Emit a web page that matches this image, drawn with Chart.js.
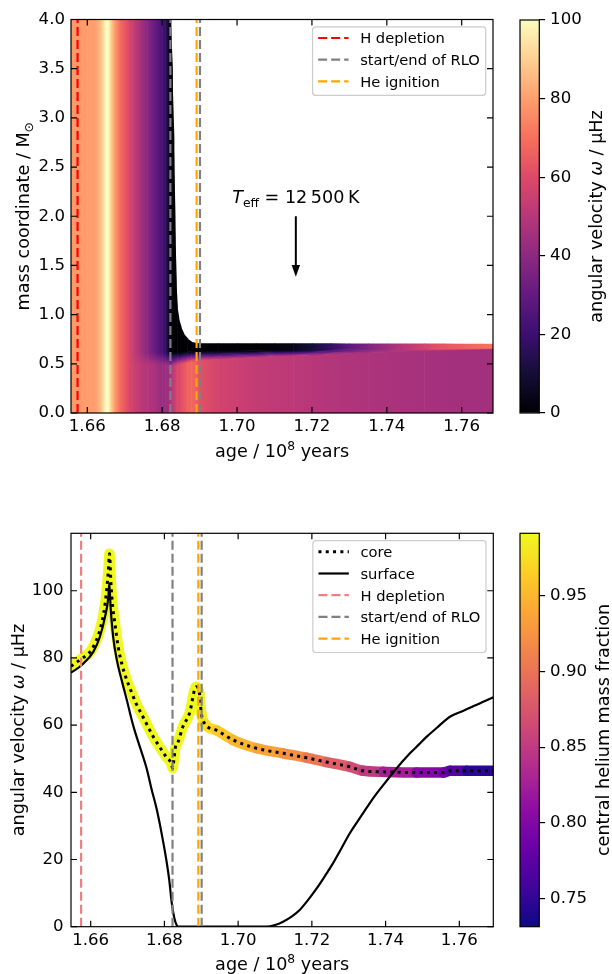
<!DOCTYPE html>
<html>
<head>
<meta charset="utf-8">
<script src="https://cdn.jsdelivr.net/npm/chart.js@4.4.0/dist/chart.umd.min.js"></script>
<style>
html, body { margin: 0; padding: 0; background: #fff; }
#wrap { position: relative; width: 612px; height: 974px; }
canvas { position: absolute; left: 0; top: 0; }
</style>
</head>
<body>
<div id="wrap">
  <canvas id="topMap" width="612" height="974"></canvas>
  <canvas id="topBar" width="612" height="974"></canvas>
  <canvas id="botLine" width="612" height="974"></canvas>
  <canvas id="botBar" width="612" height="974"></canvas>
</div>
<script>
// ---- events (age in 1e8 yr) ----
const hDepletionAge = 1.6574;
const rloAges = [1.6822, 1.6901];
const heIgnitionAge = 1.6892;

// ---- axis ranges and ticks ----
const topAgeRange = [1.65565, 1.76836];
const botAgeRange = [1.65466, 1.76922];
const massRange = [0, 4];
const omegaRange = [0, 117.1];
const omegaCbarRange = [0, 100];
const heCbarRange = [0.7312, 0.9915];
const ageTicks = [1.66, 1.68, 1.70, 1.72, 1.74, 1.76];
const massTicks = [0, 0.5, 1.0, 1.5, 2.0, 2.5, 3.0, 3.5, 4.0];
const omegaTicks = [0, 20, 40, 60, 80, 100];
const heTicks = [0.75, 0.80, 0.85, 0.90, 0.95];

// ---- top panel: omega(age, mass) columns ----
const hmAge = [1.65565, 1.6575, 1.6600, 1.6620, 1.6632, 1.6642, 1.6650, 1.6656, 1.6662, 1.6670,
  1.6680, 1.6690, 1.6700, 1.6710, 1.6720, 1.6730, 1.6740, 1.6750, 1.6760, 1.6770,
  1.6780, 1.6790, 1.6800, 1.6808, 1.6815, 1.6820, 1.6823, 1.6827, 1.6831, 1.6834,
  1.6837, 1.6840, 1.6844, 1.6850, 1.6857, 1.6867, 1.6878, 1.6890, 1.6900, 1.6950,
  1.7000, 1.7050, 1.7100, 1.7150, 1.7200, 1.7250, 1.7300, 1.7350, 1.7400, 1.7450,
  1.7500, 1.7550, 1.7600, 1.7650, 1.76836];
const hmEnvOmega = [79, 79, 79.5, 80, 84, 92, 100, 100, 92, 83,
  74, 68, 64, 60, 55, 51, 47, 43, 39, 35,
  31, 27, 23, 18, 11, 4, 1, 0, 0, 0,
  0, 0, 0, 0, 0, 0, 0, 0, 0, 0,
  0, 0, 1, 4, 10, 18, 28, 36, 44, 51,
  57, 63, 66, 69, 71];
const hmCoreOmega = [79, 79, 79.5, 80, 84, 92, 100, 100, 92, 83,
  74, 68, 64, 60, 56, 54, 52, 50, 49, 48,
  47, 44, 43, 43, 44, 46, 48, 50, 52, 55,
  57, 58, 59, 61, 63, 66, 68, 66, 62, 57,
  55, 53, 52, 51, 50, 49, 48, 47.5, 47, 46.5,
  46, 45.5, 45, 45, 45];
const hmCoreTop = [0.5, 0.5, 0.5, 0.5, 0.5, 0.5, 0.5, 0.5, 0.5, 0.5,
  0.5, 0.5, 0.5, 0.5, 0.5, 0.5, 0.5, 0.5, 0.5, 0.5,
  0.5, 0.5, 0.5, 0.5, 0.5, 0.48, 0.48, 0.48, 0.49, 0.49,
  0.49, 0.5, 0.5, 0.51, 0.51, 0.52, 0.53, 0.53, 0.54, 0.55,
  0.56, 0.57, 0.58, 0.585, 0.59, 0.6, 0.61, 0.615, 0.62, 0.63,
  0.635, 0.64, 0.645, 0.65, 0.655];
const hmEnvBottom = [0.62, 0.62, 0.62, 0.62, 0.62, 0.62, 0.62, 0.62, 0.62, 0.62,
  0.62, 0.62, 0.62, 0.62, 0.62, 0.62, 0.62, 0.62, 0.62, 0.62,
  0.62, 0.62, 0.62, 0.62, 0.62, 0.62, 0.62, 0.62, 0.62, 0.62,
  0.62, 0.62, 0.62, 0.62, 0.625, 0.625, 0.63, 0.63, 0.63, 0.633,
  0.636, 0.638, 0.64, 0.642, 0.644, 0.646, 0.648, 0.65, 0.652, 0.654,
  0.656, 0.658, 0.66, 0.662, 0.665];
const hmStarMass = [4.5, 4.5, 4.5, 4.5, 4.5, 4.5, 4.5, 4.5, 4.5, 4.5,
  4.5, 4.5, 4.5, 4.5, 4.5, 4.5, 4.5, 4.5, 4.5, 4.5,
  4.5, 4.5, 4.5, 4.5, 4.5, 4.5, 4.0, 3.5, 2.8, 2.0,
  1.4, 1.1, 0.97, 0.88, 0.81, 0.76, 0.725, 0.712, 0.71, 0.71,
  0.71, 0.71, 0.709, 0.709, 0.708, 0.708, 0.707, 0.707, 0.707, 0.706,
  0.706, 0.706, 0.705, 0.705, 0.705];

// ---- bottom panel ----
const coreAge = [1.65466, 1.6573, 1.6600, 1.6610, 1.6625, 1.6639, 1.6648, 1.6651, 1.6655, 1.6660,
  1.6666, 1.6675, 1.6685, 1.6696, 1.6710, 1.6723, 1.6737, 1.6751, 1.6770, 1.6787,
  1.6805, 1.6819, 1.6822, 1.6826, 1.6830, 1.6837, 1.6850, 1.6868, 1.6886, 1.6895,
  1.6900, 1.6909, 1.6941, 1.6986, 1.7050, 1.7122, 1.7185, 1.7240, 1.7303, 1.7339,
  1.7394, 1.7484, 1.7557, 1.7575, 1.7620, 1.76922];
const coreOmega = [77.5, 79.6, 82, 84, 88.3, 96, 106, 111, 102, 95,
  90, 83, 78, 74, 70, 66.5, 63.5, 60.5, 56.5, 53.5,
  50.5, 48.5, 47.2, 50, 53.5, 55, 59.5, 63.5, 71.4, 69.5,
  63.6, 60.5, 58.5, 55.6, 53.1, 51.6, 50.3, 49.0, 47.6, 46.4,
  46.1, 45.9, 45.9, 46.4, 46.4, 46.4];
const coreHe = [0.991, 0.991, 0.991, 0.991, 0.991, 0.991, 0.991, 0.991, 0.991, 0.991,
  0.991, 0.991, 0.991, 0.991, 0.991, 0.991, 0.991, 0.991, 0.991, 0.991,
  0.991, 0.991, 0.991, 0.991, 0.991, 0.991, 0.991, 0.991, 0.991, 0.99,
  0.988, 0.983, 0.967, 0.955, 0.944, 0.93, 0.915, 0.893, 0.874, 0.86,
  0.84, 0.812, 0.793, 0.785, 0.757, 0.735];
const surfAge = [1.65466, 1.6576, 1.6607, 1.6625, 1.6639, 1.6648, 1.66505, 1.6654, 1.6661, 1.6671,
  1.6684, 1.6698, 1.6715, 1.6735, 1.6752, 1.6765, 1.6779, 1.6792, 1.6805, 1.6813,
  1.6820, 1.6827, 1.6833, 1.6838, 1.7077, 1.7100, 1.7122, 1.7145, 1.7167, 1.7190,
  1.7213, 1.7235, 1.7258, 1.7280, 1.7303, 1.7325, 1.7348, 1.7370, 1.7394, 1.7425,
  1.7466, 1.7490, 1.7511, 1.7540, 1.7566, 1.7578, 1.7610, 1.7639, 1.76922];
const surfOmega = [75.6, 77.9, 81.8, 86.3, 92.3, 98.2, 102.2, 95.2, 86.3, 79.4,
  73.4, 67.5, 60, 53, 47, 41, 35, 28, 20, 14,
  7, 2.5, 0.5, 0, 0, 0.5, 1.5, 3, 5, 8,
  11.4, 15, 19, 23.3, 27.8, 31.5, 35.3, 38.8, 42.2, 46.5,
  51.6, 54.2, 56.5, 59.3, 61.8, 62.7, 64.2, 65.7, 68.3];

// ---- annotation ----
const teffAge = 1.7157;
const teffTextMass = 2.13;
const teffArrow = [2.0, 1.385];

// ---- colour maps ----
const magmaRGB = [[0,0,4],[20,14,54],[59,15,112],[100,26,128],[140,41,129],[183,55,121],
  [222,73,104],[247,112,92],[254,159,109],[254,207,146],[252,253,191]];
const plasmaRGB = [[13,8,135],[65,4,157],[106,0,168],[143,13,164],[177,42,144],[204,71,120],
  [225,100,98],[242,132,75],[252,166,54],[252,206,37],[240,249,33]];

function cmap(stops, t) {
  t = Math.min(1, Math.max(0, t));
  const s = t * (stops.length - 1);
  const i = Math.min(stops.length - 2, Math.floor(s));
  const f = s - i;
  const a = stops[i], b = stops[i + 1];
  return 'rgb(' + [0, 1, 2].map(k => Math.round(a[k] + (b[k] - a[k]) * f)).join(',') + ')';
}
const omegaColor = v => cmap(magmaRGB, (v - omegaCbarRange[0]) / (omegaCbarRange[1] - omegaCbarRange[0]));
const heColor = v => cmap(plasmaRGB, (v - heCbarRange[0]) / (heCbarRange[1] - heCbarRange[0]));

const FONT = "'DejaVu Sans', sans-serif";
const TICK_SIZE = 16.6, LABEL_SIZE = 17.6, LEG_SIZE = 14.7;
Chart.defaults.font.family = FONT;
Chart.defaults.color = '#000';

function f(size, italic) { return (italic ? 'italic ' : '') + size + 'px ' + FONT; }

function drawRich(ctx, parts, x, y, rot, align) {
  ctx.save();
  ctx.translate(x, y);
  ctx.rotate(rot);
  ctx.textBaseline = 'alphabetic';
  ctx.textAlign = 'left';
  ctx.fillStyle = '#000';
  let total = 0;
  const widths = parts.map(p => { ctx.font = p.font; const w = ctx.measureText(p.t).width; total += w; return w; });
  let cx = align === 'center' ? -total / 2 : 0;
  parts.forEach((p, i) => { ctx.font = p.font; ctx.fillText(p.t, cx, p.dy || 0); cx += widths[i]; });
  ctx.restore();
}

const ageTitle = [{t: 'age / 10', font: f(LABEL_SIZE)}, {t: '8', font: f(12.3), dy: -7.5}, {t: ' years', font: f(LABEL_SIZE)}];
const omegaTitle = [{t: 'angular velocity ', font: f(LABEL_SIZE)}, {t: 'ω', font: f(LABEL_SIZE, true)}, {t: ' / μHz', font: f(LABEL_SIZE)}];
const massTitle = [{t: 'mass coordinate / M', font: f(LABEL_SIZE)}, {t: '⊙', font: f(12.3), dy: 3.5}];
const heTitle = [{t: 'central helium mass fraction', font: f(LABEL_SIZE)}];
const teffParts = [{t: 'T', font: f(LABEL_SIZE, true)}, {t: 'eff', font: f(12.3), dy: 3.8}, {t: ' = 12\u2009500\u2009K', font: f(LABEL_SIZE)}];

function titles(list) {
  return {
    id: 'titles',
    afterDraw(chart) {
      const a = chart.chartArea;
      list.forEach(t => {
        if (t.rot) drawRich(chart.ctx, t.parts, a.left + t.dx, (a.top + a.bottom) / 2, -Math.PI / 2, 'center');
        else drawRich(chart.ctx, t.parts, (a.left + a.right) / 2, a.bottom + t.dy, 0, 'center');
      });
    }
  };
}

function frameTicks(xTicks, yTicks) {
  return {
    id: 'frameTicks',
    afterDatasetsDraw(chart) {
      const {ctx, chartArea: a, scales: {x, y}} = chart;
      const L = 6;
      ctx.save();
      ctx.strokeStyle = '#000';
      ctx.lineWidth = 1.2;
      ctx.setLineDash([]);
      ctx.beginPath();
      xTicks.forEach(v => {
        const px = x.getPixelForValue(v);
        ctx.moveTo(px, a.bottom); ctx.lineTo(px, a.bottom - L);
        ctx.moveTo(px, a.top); ctx.lineTo(px, a.top + L);
      });
      yTicks.forEach(v => {
        const py = y.getPixelForValue(v);
        ctx.moveTo(a.left, py); ctx.lineTo(a.left + L, py);
        ctx.moveTo(a.right, py); ctx.lineTo(a.right - L, py);
      });
      ctx.stroke();
      ctx.strokeRect(a.left, a.top, a.right - a.left, a.bottom - a.top);
      ctx.restore();
    }
  };
}

const boxLegend = {
  id: 'boxLegend',
  afterDraw(chart) {
    const {ctx, chartArea: a} = chart;
    const items = chart.data.datasets.filter(d => d.label);
    ctx.save();
    ctx.font = f(LEG_SIZE);
    const maxW = Math.max(...items.map(d => ctx.measureText(d.label).width));
    const rowH = 21.7;
    const w = 47.6 + maxW + 5.8, h = items.length * rowH + 3.4;
    const left = a.right - 7.3 - w, top = a.top + 7.3;
    ctx.beginPath();
    ctx.roundRect(left, top, w, h, 3);
    ctx.fillStyle = 'rgba(255,255,255,0.8)';
    ctx.fill();
    ctx.strokeStyle = '#cccccc';
    ctx.lineWidth = 1.2;
    ctx.stroke();
    items.forEach((d, i) => {
      const cy = top + 11.2 + i * rowH;
      ctx.beginPath();
      ctx.setLineDash(d.borderDash || []);
      ctx.strokeStyle = d.borderColor;
      ctx.lineWidth = d.borderWidth;
      ctx.moveTo(left + 5.6, cy);
      ctx.lineTo(left + 36, cy);
      ctx.stroke();
      ctx.setLineDash([]);
      ctx.fillStyle = '#000';
      ctx.textBaseline = 'alphabetic';
      ctx.fillText(d.label, left + 47.6, cy + 5.3);
    });
    ctx.restore();
  }
};

const heatmapPlugin = {
  id: 'heatmap',
  beforeDatasetsDraw(chart) {
    const {ctx, chartArea: a, scales: {x, y}} = chart;
    const lerp = (p, q, t) => p + (q - p) * t;
    const NB = 6;
    ctx.save();
    ctx.beginPath();
    ctx.rect(a.left, a.top, a.right - a.left, a.bottom - a.top);
    ctx.clip();
    for (let i = 0; i < hmAge.length - 1; i++) {
      const j = i + 1;
      const x0 = x.getPixelForValue(hmAge[i]);
      const x1 = x.getPixelForValue(hmAge[j]);
      const bands = [[0, 0, hmCoreTop[i], hmCoreTop[j], hmCoreOmega[i], hmCoreOmega[j]]];
      for (let k = 0; k < NB; k++) {
        const f0 = k / NB, f1 = (k + 1) / NB, fm = (k + 0.5) / NB;
        bands.push([
          lerp(hmCoreTop[i], hmEnvBottom[i], f0), lerp(hmCoreTop[j], hmEnvBottom[j], f0),
          lerp(hmCoreTop[i], hmEnvBottom[i], f1), lerp(hmCoreTop[j], hmEnvBottom[j], f1),
          lerp(hmCoreOmega[i], hmEnvOmega[i], fm), lerp(hmCoreOmega[j], hmEnvOmega[j], fm)]);
      }
      bands.push([hmEnvBottom[i], hmEnvBottom[j], hmStarMass[i], hmStarMass[j], hmEnvOmega[i], hmEnvOmega[j]]);
      bands.forEach(b => {
        const g = ctx.createLinearGradient(x0, 0, x1, 0);
        g.addColorStop(0, omegaColor(b[4]));
        g.addColorStop(1, omegaColor(b[5]));
        ctx.fillStyle = g;
        ctx.beginPath();
        ctx.moveTo(x0, y.getPixelForValue(b[0]) + 0.6);
        ctx.lineTo(x1 + 0.6, y.getPixelForValue(b[1]) + 0.6);
        ctx.lineTo(x1 + 0.6, y.getPixelForValue(b[3]));
        ctx.lineTo(x0, y.getPixelForValue(b[2]));
        ctx.closePath();
        ctx.fill();
      });
    }
    ctx.restore();
  }
};

const teffPlugin = {
  id: 'teff',
  afterDatasetsDraw(chart) {
    const {ctx, scales: {x, y}} = chart;
    const px = x.getPixelForValue(teffAge);
    const y0 = y.getPixelForValue(teffArrow[0]), y1 = y.getPixelForValue(teffArrow[1]);
    ctx.save();
    ctx.strokeStyle = '#000';
    ctx.fillStyle = '#000';
    ctx.lineWidth = 2;
    ctx.beginPath();
    ctx.moveTo(px, y0);
    ctx.lineTo(px, y1 - 10);
    ctx.stroke();
    ctx.beginPath();
    ctx.moveTo(px, y1);
    ctx.lineTo(px - 4.2, y1 - 11.7);
    ctx.lineTo(px + 4.2, y1 - 11.7);
    ctx.closePath();
    ctx.fill();
    ctx.restore();
    drawRich(ctx, teffParts, px, y.getPixelForValue(teffTextMass), 0, 'center');
  }
};

function vlineDs(label, age, range, color) {
  return {
    label: label,
    data: [{x: age, y: range[0]}, {x: age, y: range[1]}],
    borderColor: color,
    borderWidth: 2.2,
    borderDash: [9, 4],
    pointRadius: 0,
    order: 0
  };
}

// fixed-size axis boxes so the plot area sits exactly where the reference has it
function mainOptions(pad, xr, yr, xt, yt, xfmt, yfmt, ypad) {
  return {
    responsive: false,
    animation: false,
    devicePixelRatio: 1,
    events: [],
    layout: {padding: pad},
    elements: {point: {radius: 0}, line: {tension: 0}},
    plugins: {legend: {display: false}, tooltip: {enabled: false}},
    scales: {
      x: {
        type: 'linear', min: xr[0], max: xr[1],
        afterFit: s => { s.height = 40; },
        afterBuildTicks: s => { s.ticks = xt.map(v => ({value: v})); },
        grid: {display: false, drawTicks: false},
        border: {display: false},
        ticks: {autoSkip: false, maxRotation: 0, padding: 4, color: '#000',
          font: {family: FONT, size: TICK_SIZE}, callback: xfmt}
      },
      y: {
        type: 'linear', min: yr[0], max: yr[1],
        afterFit: s => { s.width = 71; },
        afterBuildTicks: s => { s.ticks = yt.map(v => ({value: v})); },
        grid: {display: false, drawTicks: false},
        border: {display: false},
        ticks: {autoSkip: false, padding: ypad, color: '#000',
          font: {family: FONT, size: TICK_SIZE}, callback: yfmt}
      }
    }
  };
}

// top panel
new Chart(document.getElementById('topMap'), {
  type: 'line',
  data: {datasets: [
    vlineDs('H depletion', hDepletionAge, massRange, 'red'),
    vlineDs('start/end of RLO', rloAges[0], massRange, 'gray'),
    vlineDs(null, rloAges[1], massRange, 'gray'),
    vlineDs('He ignition', heIgnitionAge, massRange, 'orange')
  ]},
  options: mainOptions({left: 0, top: 19.5, right: 119, bottom: 521}, topAgeRange, massRange,
    ageTicks, massTicks, v => v.toFixed(2), v => v.toFixed(1), 6),
  plugins: [heatmapPlugin, frameTicks(ageTicks, massTicks), teffPlugin, boxLegend,
    titles([{parts: ageTitle, dy: 44}, {parts: massTitle, rot: true, dx: -42}])]
});

// bottom panel
const corePts = coreAge.map((a, i) => ({x: a, y: coreOmega[i]}));
const surfPts = surfAge.map((a, i) => ({x: a, y: surfOmega[i]}));
new Chart(document.getElementById('botLine'), {
  type: 'line',
  data: {datasets: [
    {label: 'core', data: corePts, borderColor: '#000', borderWidth: 3, borderDash: [3, 4.3],
      pointRadius: 0, order: 2, cubicInterpolationMode: 'monotone'},
    {label: 'surface', data: surfPts, borderColor: '#000', borderWidth: 2.2, pointRadius: 0,
      order: 1, cubicInterpolationMode: 'monotone'},
    vlineDs('H depletion', hDepletionAge, omegaRange, '#f08080'),
    vlineDs('start/end of RLO', rloAges[0], omegaRange, 'gray'),
    vlineDs(null, rloAges[1], omegaRange, 'gray'),
    vlineDs('He ignition', heIgnitionAge, omegaRange, 'orange'),
    {data: corePts, borderWidth: 10.5, borderColor: heColor(coreHe[0]), borderCapStyle: 'round',
      borderJoinStyle: 'round', pointRadius: 0, order: 3, cubicInterpolationMode: 'monotone',
      segment: {borderColor: c => heColor((coreHe[c.p0DataIndex] + coreHe[c.p1DataIndex]) / 2)}}
  ]},
  options: mainOptions({left: 0, top: 533.3, right: 118.7, bottom: 7.3}, botAgeRange, omegaRange,
    ageTicks, omegaTicks, v => v.toFixed(2), v => String(v), 7.5),
  plugins: [frameTicks(ageTicks, omegaTicks), boxLegend,
    titles([{parts: ageTitle, dy: 43.3}, {parts: omegaTitle, rot: true, dx: -47}])]
});

// colour bars
function colourBar(id, pad, range, stops, ticks, fmt, title, titleDx) {
  new Chart(document.getElementById(id), {
    type: 'bar',
    data: {labels: [''], datasets: [{
      data: [range],
      backgroundColor: c => {
        const a = c.chart.chartArea;
        if (!a) return '#000';
        const g = c.chart.ctx.createLinearGradient(0, a.bottom, 0, a.top);
        stops.forEach((s, i) => g.addColorStop(i / (stops.length - 1), 'rgb(' + s.join(',') + ')'));
        return g;
      },
      borderWidth: 0, barPercentage: 1, categoryPercentage: 1
    }]},
    options: {
      responsive: false, animation: false, devicePixelRatio: 1, events: [],
      layout: {padding: pad},
      plugins: {legend: {display: false}, tooltip: {enabled: false}},
      scales: {
        x: {display: false},
        y: {
          position: 'right', min: range[0], max: range[1],
          afterFit: s => { s.width = 60; },
          afterBuildTicks: s => { s.ticks = ticks.map(v => ({value: v})); },
          grid: {display: true, drawOnChartArea: false, drawTicks: true, tickLength: 5.8, color: '#000', lineWidth: 1.2},
          border: {display: false},
          ticks: {autoSkip: false, padding: 5, color: '#000', font: {family: FONT, size: TICK_SIZE}, callback: fmt}
        }
      }
    },
    plugins: [{
      id: 'outline',
      afterDraw(chart) {
        const {ctx, chartArea: a} = chart;
        ctx.save();
        ctx.strokeStyle = '#000';
        ctx.lineWidth = 1.2;
        ctx.strokeRect(a.left, a.top, a.right - a.left, a.bottom - a.top);
        ctx.restore();
        drawRich(ctx, title, a.right + titleDx, (a.top + a.bottom) / 2, -Math.PI / 2, 'center');
      }
    }]
  });
}

colourBar('topBar', {left: 520, top: 20, right: 12.7, bottom: 561}, omegaCbarRange, magmaRGB,
  omegaTicks, v => String(v), omegaTitle, 62.2);
colourBar('botBar', {left: 520, top: 533.3, right: 12.7, bottom: 47.3}, heCbarRange, plasmaRGB,
  heTicks, v => v.toFixed(2), heTitle, 69.7);
</script>
</body>
</html>
